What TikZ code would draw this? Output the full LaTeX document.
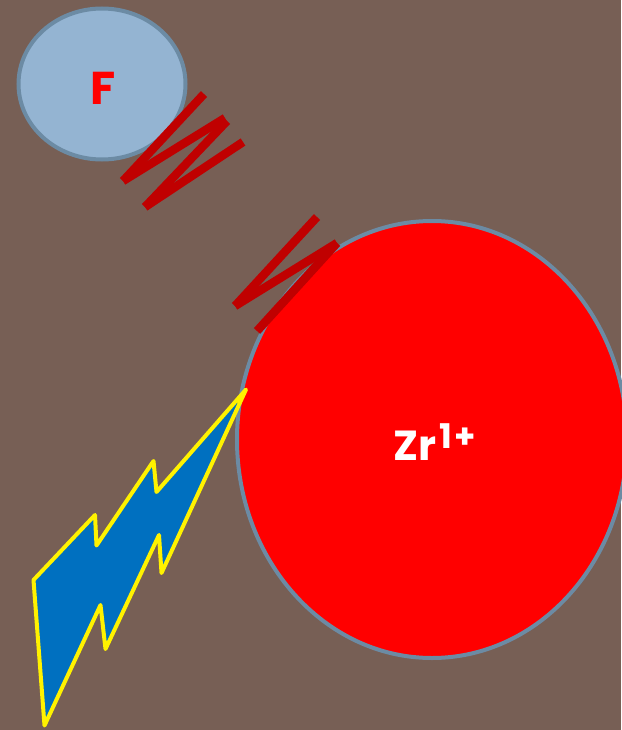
\documentclass[tikz,border=0pt]{standalone}
\usepackage{fontspec}
\setmainfont{Poppins}
\definecolor{bgc}{HTML}{775F55}
\definecolor{ringc}{HTML}{6C8BA4}
\definecolor{smallc}{HTML}{94B4D2}
\definecolor{springc}{HTML}{C00000}
\definecolor{boltc}{HTML}{0070C0}
\tikzset{
  ball/.style={draw=ringc,line width=4pt},
  springline/.style={draw=springc,line width=8.5pt,line cap=butt},
  bolt/.style={draw=yellow,fill=boltc,line width=4pt,line join=round}
}
\begin{document}
\begin{tikzpicture}[x=1pt,y=-1pt]
\useasboundingbox (0,0) rectangle (621,730);
\fill[bgc] (0,0) rectangle (621,730);
\draw[ball,fill=smallc] (102,84) ellipse [x radius=83.5,y radius=75.5];
\draw[ball,fill=red] (432,439.5) ellipse [x radius=195,y radius=218.5];
\node[text=red,font=\bfseries\fontsize{46}{46}\selectfont,inner sep=0pt] (f) at (103,88) {F};
\node[text=white,font=\bfseries\fontsize{42}{42}\selectfont,inner sep=0pt] (zr) at (435,442) {Zr\kern3pt\raisebox{12pt}{\fontsize{34}{34}\selectfont 1\kern2pt+}};
\draw[springline] (204,94) -- (123,181);
\draw[springline] (123,181) -- (225,118);
\draw[springline] (227,121) -- (145,207);
\draw[springline] (145,207) -- (243,142);
\draw[springline] (317,217) -- (235,306);
\draw[springline] (235,306) -- (337,243);
\draw[springline] (337,243) -- (257,331);
\draw[bolt] (246,389.5) -- (156.5,492) -- (153.5,461) -- (96.5,545.5) -- (95,515) -- (33.5,580) -- (44.5,725.5) -- (100.5,605) -- (105.5,649) -- (159,535) -- (161.5,573) -- cycle;
\end{tikzpicture}
\end{document}
